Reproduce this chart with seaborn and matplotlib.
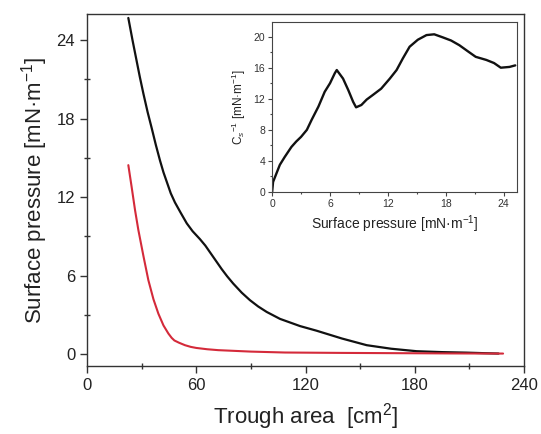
import matplotlib
matplotlib.use("Agg")
import matplotlib.pyplot as plt
from matplotlib.ticker import MultipleLocator
import seaborn as sns
import pandas as pd

# Main isotherms: trough area [cm2] vs surface pressure [mN/m]
black_area = [22.7, 25, 27, 29, 31, 33.3, 35.5, 37.8, 40.1, 42, 44, 46, 48.3, 51.5, 54.8, 58, 62, 65,
              68, 71, 74, 77, 80.3, 85, 89.5, 94, 98.7, 106, 117, 126, 140, 153.6, 167, 181, 195,
              208.5, 218, 226]
black_pressure = [25.7, 24.0, 22.6, 21.2, 19.9, 18.5, 17.3, 16.0, 14.8, 13.9, 13.1, 12.3, 11.6, 10.8,
                  10.0, 9.4, 8.8, 8.3, 7.7, 7.1, 6.5, 5.95, 5.4, 4.7, 4.13, 3.65, 3.23, 2.7, 2.15,
                  1.8, 1.2, 0.69, 0.42, 0.23, 0.16, 0.12, 0.08, 0.05]

red_area = [22.7, 24.5, 26.4, 28.2, 31, 33.7, 36.5, 39.2, 42, 44.7, 46.5, 48, 50.5, 53.8, 57, 60, 66,
            72.1, 90, 108.7, 140, 170, 200, 228.5]
red_pressure = [14.45, 12.8, 11.0, 9.5, 7.5, 5.66, 4.2, 3.1, 2.2, 1.58, 1.25, 1.05, 0.88, 0.69, 0.56,
                0.48, 0.38, 0.31, 0.2, 0.13, 0.1, 0.08, 0.06, 0.05]

# Inset: compression modulus vs surface pressure
inset_pressure = [0, 0.1, 0.45, 0.8, 1.3, 2.0, 2.5, 3.0, 3.6, 4.1, 4.8, 5.45, 6.0, 6.5, 6.7, 7.35, 7.9,
                  8.4, 8.7, 9.25, 9.8, 10.45, 11.3, 12.2, 12.9, 13.55, 14.25, 15.1, 16.0, 16.8, 17.7,
                  18.55, 19.4, 20.3, 21.1, 22.2, 23.0, 23.7, 24.6, 25.2]
inset_modulus = [0, 1.3, 2.4, 3.5, 4.5, 5.8, 6.5, 7.1, 8.0, 9.3, 11.0, 12.9, 14.0, 15.3, 15.7, 14.6, 13.1,
                 11.6, 10.9, 11.2, 11.9, 12.5, 13.3, 14.6, 15.7, 17.2, 18.7, 19.6, 20.2, 20.3, 19.9,
                 19.5, 18.9, 18.1, 17.4, 17.0, 16.6, 16.0, 16.1, 16.3]

main_xticks = [0, 60, 120, 180, 240]
main_yticks = [0, 6, 12, 18, 24]
inset_xticks = [0, 6, 12, 18, 24]
inset_yticks = [0, 4, 8, 12, 16, 20]

sns.set_style("ticks")
plt.rcParams['font.family'] = ['Liberation Sans', 'DejaVu Sans']
plt.rcParams['mathtext.fontset'] = 'custom'
plt.rcParams['mathtext.rm'] = 'Liberation Sans'
plt.rcParams['mathtext.it'] = 'Liberation Sans:italic'

fig = plt.figure(figsize=(5.41, 4.34), dpi=100)
ax = fig.add_axes([0.1608, 0.1567, 0.8078, 0.811])

df_b = pd.DataFrame({"area": black_area, "pressure": black_pressure})
df_r = pd.DataFrame({"area": red_area, "pressure": red_pressure})
sns.lineplot(data=df_b, x="area", y="pressure", ax=ax, color="#111111", linewidth=1.6)
sns.lineplot(data=df_r, x="area", y="pressure", ax=ax, color="#d42a3a", linewidth=1.5)

ax.set_xlim(0, 240)
ax.set_ylim(-0.9, 26)
ax.set_xticks(main_xticks)
ax.set_yticks(main_yticks)
ax.xaxis.set_minor_locator(MultipleLocator(30))
ax.yaxis.set_minor_locator(MultipleLocator(3))
ax.tick_params(which='major', direction='out', length=5, width=1, labelsize=12, colors='#333333',
               labelcolor='#222222')
ax.tick_params(which='minor', direction='inout', length=4, width=1, colors='#333333')
ax.set_xlabel("Trough area  [cm$^2$]", fontsize=16, color='#222222', labelpad=6)
ax.set_ylabel("Surface pressure [mN·m$^{-1}$]", fontsize=16, color='#222222', labelpad=5)
for s in ax.spines.values():
    s.set_color('#333333')
    s.set_linewidth(1)

# Inset
ins = fig.add_axes([0.503, 0.5576, 0.453, 0.392])
df_i = pd.DataFrame({"p": inset_pressure, "c": inset_modulus})
sns.lineplot(data=df_i, x="p", y="c", ax=ins, color="#111111", linewidth=1.7)
ins.set_xlim(0, 25.4)
ins.set_ylim(0, 21.9)
ins.set_xticks(inset_xticks)
ins.set_yticks(inset_yticks)
ins.xaxis.set_minor_locator(MultipleLocator(3))
ins.yaxis.set_minor_locator(MultipleLocator(2))
ins.tick_params(which='major', direction='out', length=3, width=0.8, labelsize=7.5, colors='#444444',
                labelcolor='#333333', pad=2)
ins.tick_params(which='minor', direction='out', length=1.5, width=0.8, colors='#444444')
ins.set_xlabel("Surface pressure [mN·m$^{-1}$]", fontsize=10, color='#222222', labelpad=3)
ins.set_ylabel("C$_s$$^{-1}$ [mN·m$^{-1}$]", fontsize=8.5, color='#222222', labelpad=4)
for s in ins.spines.values():
    s.set_color('#444444')
    s.set_linewidth(0.8)

fig.savefig("out.png", dpi=100)
